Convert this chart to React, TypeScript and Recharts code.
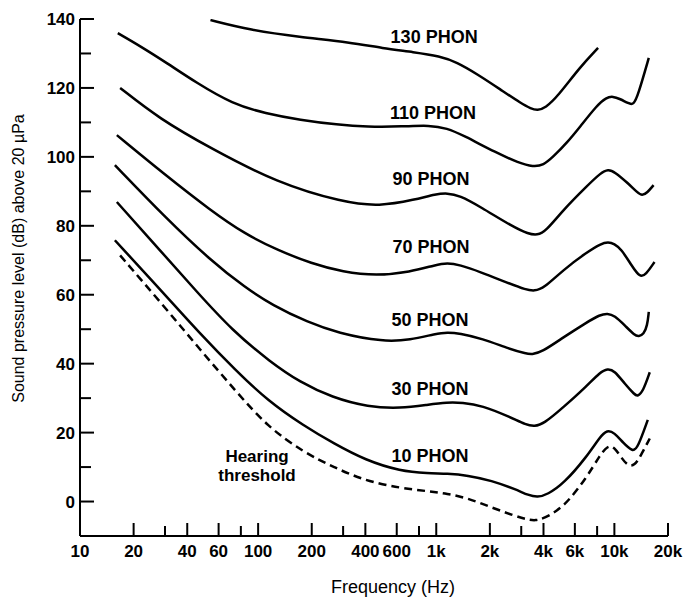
import React from 'react';
import { LineChart, Line, XAxis, YAxis, ReferenceDot, Label } from 'recharts';

interface Point {
  f: number;
  spl: number;
}

// equal-loudness contours (f in Hz, spl in dB)
const PHON_130: Point[] = [
  { f: 54, spl: 139.7 }, { f: 90, spl: 136.8 }, { f: 170, spl: 134.8 }, { f: 330, spl: 133.2 },
  { f: 500, spl: 131.5 }, { f: 750, spl: 130.4 }, { f: 1050, spl: 129.2 }, { f: 1300, spl: 127.5 },
  { f: 1700, spl: 124 }, { f: 2300, spl: 119.5 }, { f: 3000, spl: 115.5 }, { f: 3400, spl: 114 },
  { f: 3700, spl: 113.5 }, { f: 4100, spl: 114.2 }, { f: 4800, spl: 117.5 }, { f: 6400, spl: 126 },
  { f: 8100, spl: 131.6 },
];

const PHON_110: Point[] = [
  { f: 16.3, spl: 135.9 }, { f: 22, spl: 132 }, { f: 30.8, spl: 127.2 }, { f: 45, spl: 121.5 },
  { f: 72, spl: 115.3 }, { f: 110, spl: 112.6 }, { f: 172, spl: 110.7 }, { f: 280, spl: 109.3 },
  { f: 408, spl: 108.7 }, { f: 650, spl: 108.8 }, { f: 920, spl: 109.2 }, { f: 1150, spl: 108.3 },
  { f: 1410, spl: 106.3 }, { f: 2190, spl: 101.1 }, { f: 2900, spl: 98.3 }, { f: 3500, spl: 97.1 },
  { f: 4000, spl: 97.6 }, { f: 4530, spl: 100 }, { f: 5400, spl: 104 }, { f: 6410, spl: 108.7 },
  { f: 8000, spl: 115 }, { f: 9000, spl: 117.2 }, { f: 9800, spl: 117.6 }, { f: 10770, spl: 116.8 },
  { f: 12000, spl: 115.5 }, { f: 12800, spl: 115 }, { f: 13600, spl: 118 }, { f: 15600, spl: 128.7 },
];

const PHON_90: Point[] = [
  { f: 16.8, spl: 120 }, { f: 28, spl: 111 }, { f: 53.7, spl: 102.6 }, { f: 128, spl: 92.4 },
  { f: 300, spl: 86.8 }, { f: 480, spl: 85.6 }, { f: 760, spl: 87.6 }, { f: 1000, spl: 89.2 },
  { f: 1150, spl: 89.5 }, { f: 1350, spl: 88.8 }, { f: 1770, spl: 85.5 }, { f: 2690, spl: 79.7 },
  { f: 3300, spl: 77.6 }, { f: 3690, spl: 77.3 }, { f: 4100, spl: 78.3 }, { f: 5160, spl: 84.6 },
  { f: 7000, spl: 91.5 }, { f: 8400, spl: 95.4 }, { f: 9230, spl: 96.4 }, { f: 10000, spl: 95.7 },
  { f: 11900, spl: 92.4 }, { f: 13500, spl: 89.6 }, { f: 14300, spl: 88.7 }, { f: 15300, spl: 89.6 },
  { f: 16600, spl: 91.8 },
];

const PHON_70: Point[] = [
  { f: 16.1, spl: 106.3 }, { f: 30, spl: 94.8 }, { f: 53.7, spl: 84.6 }, { f: 85, spl: 77.5 },
  { f: 128, spl: 73 }, { f: 200, spl: 69 }, { f: 300, spl: 66.6 }, { f: 460, spl: 65.5 },
  { f: 713, spl: 66.6 }, { f: 1000, spl: 68.7 }, { f: 1150, spl: 69.2 }, { f: 1350, spl: 68.7 },
  { f: 1770, spl: 66.6 }, { f: 2500, spl: 63.5 }, { f: 3200, spl: 61.4 }, { f: 3560, spl: 61.1 },
  { f: 4000, spl: 61.8 }, { f: 5160, spl: 67.2 }, { f: 7000, spl: 72.3 }, { f: 8400, spl: 74.8 },
  { f: 9230, spl: 75.3 }, { f: 10000, spl: 74.8 }, { f: 10900, spl: 73.3 }, { f: 12500, spl: 68.5 },
  { f: 13900, spl: 65 }, { f: 15000, spl: 65.8 }, { f: 16800, spl: 69.5 },
];

const PHON_50: Point[] = [
  { f: 15.7, spl: 97.6 }, { f: 30, spl: 82.5 }, { f: 53.7, spl: 70.1 }, { f: 85, spl: 62 },
  { f: 120, spl: 57 }, { f: 190, spl: 52 }, { f: 280, spl: 48.9 }, { f: 505, spl: 46.3 },
  { f: 713, spl: 46.9 }, { f: 1000, spl: 48.7 }, { f: 1150, spl: 49.1 }, { f: 1350, spl: 48.8 },
  { f: 1800, spl: 47.3 }, { f: 2600, spl: 44.2 }, { f: 3200, spl: 42.9 }, { f: 3440, spl: 42.7 },
  { f: 3900, spl: 43.3 }, { f: 5160, spl: 47.6 }, { f: 7000, spl: 52 }, { f: 8300, spl: 54.2 },
  { f: 9160, spl: 54.6 }, { f: 10000, spl: 54 }, { f: 11500, spl: 51 }, { f: 13000, spl: 48.2 },
  { f: 13700, spl: 47.9 }, { f: 14600, spl: 48.5 }, { f: 15300, spl: 51 }, { f: 15600, spl: 55 },
];

const PHON_30: Point[] = [
  { f: 16.1, spl: 86.9 }, { f: 28, spl: 73 }, { f: 45, spl: 61 }, { f: 72, spl: 49.5 },
  { f: 117, spl: 40.5 }, { f: 172, spl: 34.6 }, { f: 260, spl: 30.2 }, { f: 415, spl: 27.4 },
  { f: 630, spl: 27 }, { f: 900, spl: 28.1 }, { f: 1150, spl: 28.8 }, { f: 1400, spl: 28.7 },
  { f: 1800, spl: 27.9 }, { f: 2600, spl: 24.5 }, { f: 3200, spl: 22.2 }, { f: 3560, spl: 21.8 },
  { f: 4000, spl: 22.5 }, { f: 5160, spl: 27.3 }, { f: 7000, spl: 33.5 }, { f: 8300, spl: 37.5 },
  { f: 9160, spl: 38.6 }, { f: 10000, spl: 38 }, { f: 11500, spl: 34 }, { f: 13000, spl: 31 },
  { f: 13500, spl: 30.5 }, { f: 14500, spl: 32 }, { f: 15800, spl: 37.5 },
];

const PHON_10: Point[] = [
  { f: 15.7, spl: 75.8 }, { f: 30, spl: 60 }, { f: 47, spl: 48.8 }, { f: 75, spl: 38 },
  { f: 113, spl: 29.3 }, { f: 180, spl: 22 }, { f: 267, spl: 16.8 }, { f: 400, spl: 12 },
  { f: 630, spl: 8.8 }, { f: 900, spl: 8.2 }, { f: 1150, spl: 8.1 }, { f: 1500, spl: 7.6 },
  { f: 2040, spl: 6.1 }, { f: 2800, spl: 3.5 }, { f: 3300, spl: 1.8 }, { f: 3700, spl: 1.2 },
  { f: 4200, spl: 2 }, { f: 5200, spl: 5.2 }, { f: 7000, spl: 13 }, { f: 8300, spl: 18.8 },
  { f: 9100, spl: 20.8 }, { f: 10000, spl: 20 }, { f: 11200, spl: 17 }, { f: 12700, spl: 14.4 },
  { f: 13500, spl: 15.5 }, { f: 15400, spl: 23.7 },
];

const THRESHOLD: Point[] = [
  { f: 16.8, spl: 71.4 }, { f: 30, spl: 56.3 }, { f: 47, spl: 44.2 }, { f: 75, spl: 32 },
  { f: 113, spl: 21.7 }, { f: 180, spl: 14.3 }, { f: 267, spl: 9.9 }, { f: 400, spl: 6 },
  { f: 630, spl: 3.9 }, { f: 900, spl: 3 }, { f: 1150, spl: 2.3 }, { f: 1500, spl: 1 },
  { f: 2040, spl: -1.7 }, { f: 2800, spl: -4.3 }, { f: 3300, spl: -5.3 }, { f: 3600, spl: -5.5 },
  { f: 4000, spl: -5 }, { f: 5200, spl: -1.7 }, { f: 7000, spl: 7 }, { f: 8300, spl: 13.5 },
  { f: 9200, spl: 16.3 }, { f: 10000, spl: 15.8 }, { f: 11000, spl: 12.5 }, { f: 12000, spl: 10.2 },
  { f: 13000, spl: 10.6 }, { f: 13900, spl: 12.8 }, { f: 15800, spl: 18.3 },
];

const CONTOURS = [PHON_130, PHON_110, PHON_90, PHON_70, PHON_50, PHON_30, PHON_10];

const PHON_LABELS = [
  { text: '130 PHON', f: 973, spl: 134.8 },
  { text: '110 PHON', f: 960, spl: 112.7 },
  { text: '90 PHON', f: 935, spl: 93.6 },
  { text: '70 PHON', f: 935, spl: 74.1 },
  { text: '50 PHON', f: 923, spl: 52.8 },
  { text: '30 PHON', f: 923, spl: 32.9 },
  { text: '10 PHON', f: 923, spl: 13.2 },
];

const THRESHOLD_LABEL = [
  { text: 'Hearing', f: 98.6, spl: 13.2 },
  { text: 'threshold', f: 98.6, spl: 7.6 },
];

const X_TICKS = [10, 20, 30, 40, 60, 80, 100, 200, 300, 400, 600, 800, 1000, 2000, 3000, 4000, 6000, 8000, 10000, 20000];
const X_TICK_LABELS = ['10', '20', '', '40', '60', '', '100', '200', '', '400', '600', '', '1k', '2k', '', '4k', '6k', '', '10k', '20k'];
const Y_TICKS = [-10, 0, 10, 20, 30, 40, 50, 60, 70, 80, 90, 100, 110, 120, 130, 140];

const FONT = '"Liberation Sans", Arial, Helvetica, sans-serif';

const FreqTick = (props: any) => {
  const { x, y, payload } = props;
  const idx = X_TICKS.findIndex((t) => Math.abs(t - payload.value) < 1e-6);
  const label = idx >= 0 ? X_TICK_LABELS[idx] : '';
  return (
    <g>
      {payload.value > 10 && (
        <line x1={x} x2={x} y1={y} y2={y - (label ? 13 : 10)} stroke="#000" strokeWidth={2} />
      )}
      {label && (
        <text x={x} y={y + 21} textAnchor="middle" fontSize={17} fontWeight="bold" fontFamily={FONT} fill="#000">
          {label}
        </text>
      )}
    </g>
  );
};

const SplTick = (props: any) => {
  const { x, y, payload } = props;
  const v = payload.value;
  const major = v % 20 === 0;
  return (
    <g>
      {v > -10 && <line x1={x} x2={x + (major ? 14 : 11)} y1={y} y2={y} stroke="#000" strokeWidth={2} />}
      {major && (
        <text x={x - 5} y={y} dy="0.36em" textAnchor="end" fontSize={17} fontWeight="bold" fontFamily={FONT} fill="#000">
          {v}
        </text>
      )}
    </g>
  );
};

export default function App() {
  return (
    <div style={{ position: 'absolute', left: 0, top: 0, background: '#fff' }}>
      <LineChart width={688} height={598} margin={{ top: 19, right: 20, bottom: 0, left: 0 }}>
        <XAxis
          dataKey="f"
          type="number"
          scale="log"
          domain={[10, 20000]}
          ticks={X_TICKS}
          interval={0}
          height={62}
          tickSize={0}
          tickMargin={0}
          tickLine={false}
          axisLine={{ stroke: '#000', strokeWidth: 2 }}
          tick={<FreqTick />}
          allowDataOverflow
        >
          <Label
            content={({ viewBox }: any) => (
              <text
                x={viewBox.x + viewBox.width / 2 + 19}
                y={viewBox.y + 57}
                textAnchor="middle"
                fontSize={18}
                fontFamily={FONT}
                fill="#000"
              >
                Frequency (Hz)
              </text>
            )}
          />
        </XAxis>
        <YAxis
          type="number"
          domain={[-10, 140]}
          ticks={Y_TICKS}
          interval={0}
          width={80}
          tickSize={0}
          tickMargin={0}
          tickLine={false}
          axisLine={{ stroke: '#000', strokeWidth: 2 }}
          tick={<SplTick />}
          allowDataOverflow
        >
          <Label
            content={({ viewBox }: any) => {
              const cx = viewBox.x + 18;
              const cy = viewBox.y + viewBox.height / 2 - 19;
              return (
                <text
                  transform={`translate(${cx},${cy}) rotate(-90)`}
                  textAnchor="middle"
                  dominantBaseline="central"
                  fontSize={16}
                  fontFamily={FONT}
                  fill="#000"
                >
                  Sound pressure level (dB) above 20 µPa
                </text>
              );
            }}
          />
        </YAxis>
        {CONTOURS.map((pts, i) => (
          <Line
            key={`phon-${i}`}
            data={pts}
            dataKey="spl"
            type="basis"
            stroke="#000"
            strokeWidth={2.5}
            dot={false}
            activeDot={false}
            isAnimationActive={false}
          />
        ))}
        <Line
          data={THRESHOLD}
          dataKey="spl"
          type="basis"
          stroke="#000"
          strokeWidth={2.5}
          strokeDasharray="8 5"
          dot={false}
          activeDot={false}
          isAnimationActive={false}
        />
        {[...PHON_LABELS, ...THRESHOLD_LABEL].map((l) => (
          <ReferenceDot
            key={l.text}
            x={l.f}
            y={l.spl}
            r={0}
            fill="none"
            stroke="none"
            label={{
              value: l.text,
              position: 'center',
              fontSize: l.text.includes('PHON') ? 18 : 17,
              fontWeight: 'bold',
              fontFamily: FONT,
              fill: '#000',
            }}
          />
        ))}
      </LineChart>
    </div>
  );
}
